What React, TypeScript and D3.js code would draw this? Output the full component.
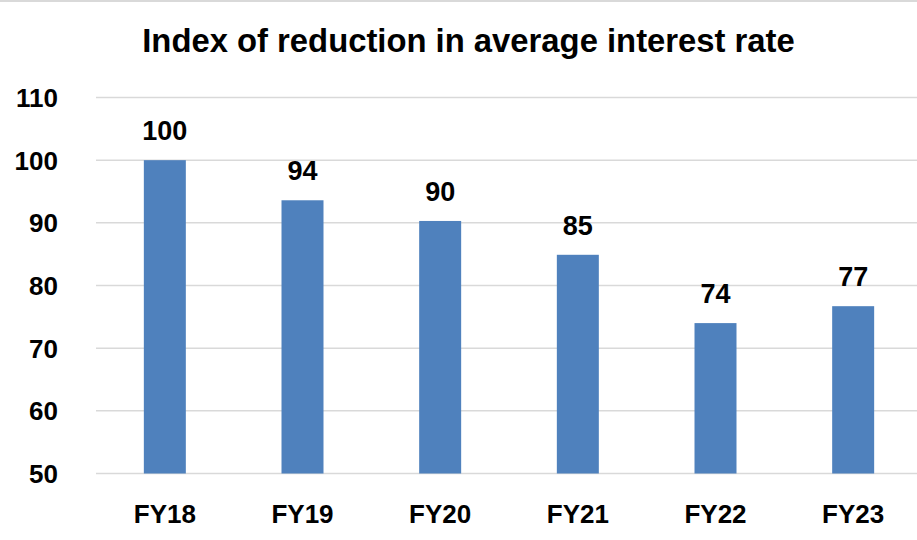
import React, { useEffect, useRef } from 'react';
import { select, scaleBand, scaleLinear } from 'd3';

const years = ['FY18', 'FY19', 'FY20', 'FY21', 'FY22', 'FY23'];
const indexValues = [100, 93.6, 90.3, 84.9, 74.0, 76.7];
const valueLabels = ['100', '94', '90', '85', '74', '77'];
const yTicks = [50, 60, 70, 80, 90, 100, 110];

const W = 917;
const H = 540;
const font = "'Liberation Sans', Arial, sans-serif";

export default function App() {
  const ref = useRef<SVGSVGElement>(null);

  useEffect(() => {
    document.body.style.margin = '0';
    const svg = select(ref.current);
    svg.selectAll('*').remove();

    const x = scaleBand().domain(years).range([96, 922]).paddingInner(0.695).paddingOuter(0.3475);
    const y = scaleLinear().domain([50, 110]).range([473.5, 97.5]);

    // top border
    svg.append('line')
      .attr('x1', 0).attr('x2', W).attr('y1', 1).attr('y2', 1)
      .attr('stroke', '#d9d9d9').attr('stroke-width', 2);

    svg.append('text')
      .attr('x', 468.5).attr('y', 52)
      .attr('text-anchor', 'middle')
      .style('font-family', font).style('font-weight', 'bold').style('font-size', '32.8px')
      .attr('fill', '#000')
      .text('Index of reduction in average interest rate');

    // gridlines
    svg.append('g').selectAll('line')
      .data(yTicks)
      .join('line')
      .attr('x1', 96).attr('x2', W)
      .attr('y1', d => y(d)).attr('y2', d => y(d))
      .attr('stroke', '#d9d9d9').attr('stroke-width', 1.5);

    // y tick labels
    svg.append('g').selectAll('text')
      .data(yTicks)
      .join('text')
      .attr('x', 58).attr('y', d => y(d)).attr('dy', '0.36em')
      .attr('text-anchor', 'end')
      .style('font-family', font).style('font-weight', 'bold').style('font-size', '26px')
      .text(d => d);

    // bars
    svg.append('g').selectAll('rect')
      .data(indexValues)
      .join('rect')
      .attr('x', (d, i) => x(years[i])!)
      .attr('width', x.bandwidth())
      .attr('y', d => y(d))
      .attr('height', d => y(50) - y(d))
      .attr('fill', '#4f81bd');

    // value labels
    svg.append('g').selectAll('text')
      .data(indexValues)
      .join('text')
      .attr('x', (d, i) => x(years[i])! + x.bandwidth() / 2)
      .attr('y', d => y(d) - 20)
      .attr('text-anchor', 'middle')
      .style('font-family', font).style('font-weight', 'bold').style('font-size', '27px')
      .text((d, i) => valueLabels[i]);

    // category labels
    svg.append('g').selectAll('text')
      .data(years)
      .join('text')
      .attr('x', d => x(d)! + x.bandwidth() / 2)
      .attr('y', 522.5)
      .attr('text-anchor', 'middle')
      .style('font-family', font).style('font-weight', 'bold').style('font-size', '26px')
      .text(d => d);
  }, []);

  return <svg ref={ref} width={W} height={H} style={{ display: 'block', background: '#fff' }} />;
}
